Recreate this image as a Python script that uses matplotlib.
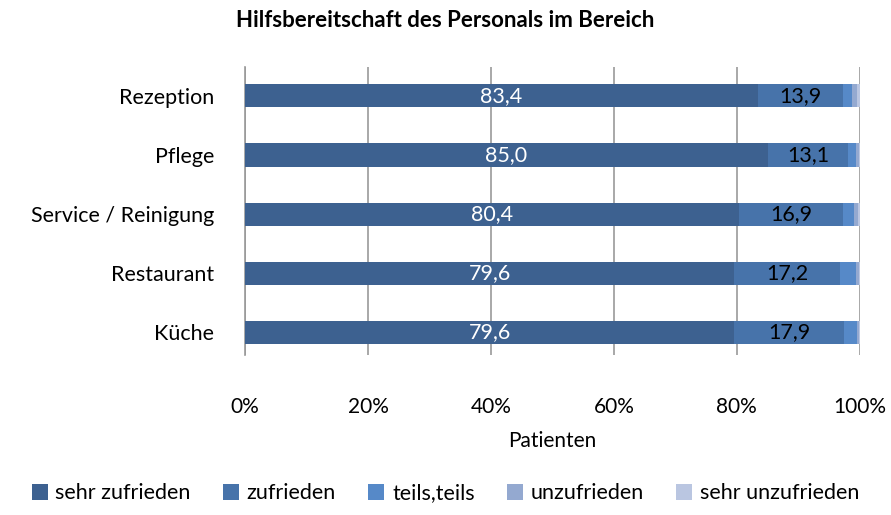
import numpy as np
import matplotlib
matplotlib.use("Agg")
from matplotlib import pyplot as plt

plt.rcParams['font.family'] = ['Lato', 'DejaVu Sans']

# Data (percent of patients)
categories = ['Küche', 'Restaurant', 'Service / Reinigung', 'Pflege', 'Rezeption']
series_names = ['sehr zufrieden', 'zufrieden', 'teils,teils', 'unzufrieden', 'sehr unzufrieden']
sehr_zufrieden = [79.6, 79.6, 80.4, 85.0, 83.4]
zufrieden = [17.9, 17.2, 16.9, 13.1, 13.9]
teils_teils = [2.0, 2.6, 1.8, 1.2, 1.5]
unzufrieden = [0.3, 0.4, 0.6, 0.5, 0.8]
sehr_unzufrieden = [0.2, 0.2, 0.3, 0.2, 0.4]
tick_labels = ['0%', '20%', '40%', '60%', '80%', '100%']

colors = ['#3d6190', '#4773aa', '#5689c8', '#94a9d0', '#bac6e1']
series = [sehr_zufrieden, zufrieden, teils_teils, unzufrieden, sehr_unzufrieden]

fig = plt.figure(figsize=(8.91, 5.15), dpi=100)
ax = fig.add_axes([0.275, 0.31, 0.69, 0.56])

y = np.arange(len(categories))
left = np.zeros(len(categories))
for name, vals, c in zip(series_names, series, colors):
    vals = np.array(vals)
    bars = ax.barh(y, vals, left=left, height=0.39, color=c, label=name,
                   edgecolor='none', zorder=3)
    if name in ('sehr zufrieden', 'zufrieden'):
        tc = 'white' if name == 'sehr zufrieden' else 'black'
        for b, v in zip(bars, vals):
            ax.text(b.get_x() + b.get_width() / 2, b.get_y() + b.get_height() / 2,
                    f'{v:.1f}'.replace('.', ','), color=tc, fontsize=15.5,
                    ha='center', va='center', zorder=4)
    left += vals

ax.set_xlim(0, 100)
ax.set_ylim(-0.39, 4.49)
ax.set_xticks(np.arange(0, 101, 20))
ax.set_xticklabels(tick_labels, fontsize=15)
ax.set_yticks(y)
ax.set_yticklabels(categories, fontsize=15.5)
ax.tick_params(axis='x', length=0, pad=30)
ax.tick_params(axis='y', length=0, pad=22)
ax.grid(axis='x', color='#999999', linewidth=1.2, zorder=0)
for s in ['top', 'right', 'bottom']:
    ax.spines[s].set_visible(False)
ax.spines['left'].set_color('#999999')
ax.spines['left'].set_linewidth(1.2)
ax.set_xlabel('Patienten', fontsize=15, labelpad=10)

fig.suptitle('Hilfsbereitschaft des Personals im Bereich', fontsize=16,
             fontweight='bold', y=0.98)

fig.legend(loc='lower center', ncol=5, frameon=False, fontsize=15.5,
           bbox_to_anchor=(0.5, -0.015), handlelength=0.75, handleheight=0.75,
           handletextpad=0.35, columnspacing=1.5)

fig.savefig('out.png', dpi=100)
